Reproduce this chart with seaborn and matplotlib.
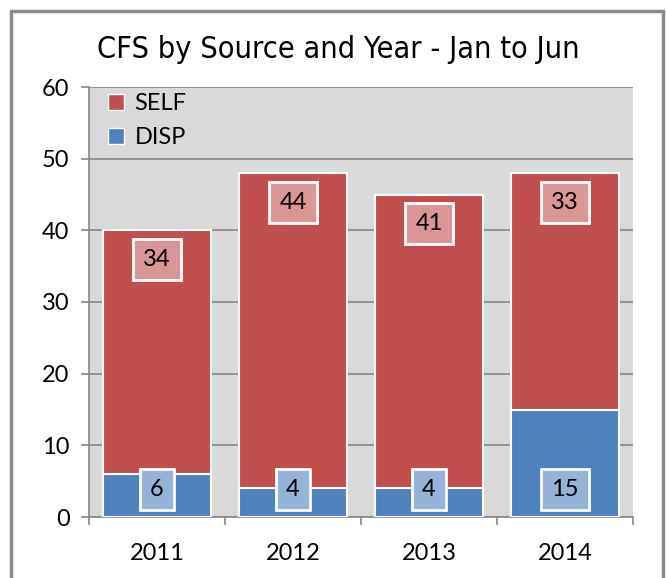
import matplotlib
matplotlib.use("Agg")
import matplotlib.pyplot as plt
from matplotlib.patches import Patch, Rectangle
import pandas as pd
import seaborn as sns

years = ["2011", "2012", "2013", "2014"]
self_vals = [34, 44, 41, 33]
disp_vals = [6, 4, 4, 15]

red = "#C0504D"
blue = "#4F81BD"
red_lbl = "#D99694"
blue_lbl = "#95B3D7"

df = pd.DataFrame({"year": years, "SELF": self_vals, "DISP": disp_vals})
df["total"] = df["SELF"] + df["DISP"]

sns.set_style("white")
plt.rcParams["font.family"] = ["Lato", "DejaVu Sans"]
plt.rcParams["text.color"] = "black"
plt.rcParams["xtick.labelcolor"] = "black"
plt.rcParams["ytick.labelcolor"] = "black"

fig = plt.figure(figsize=(6.66, 5.78), dpi=100)
ax = fig.add_axes([89 / 666, 1 - 517 / 578, (633 - 89) / 666, (517 - 87) / 578])
ax.set_facecolor("#D9D9D9")

# stacked: total in red, disp on top in blue
sns.barplot(data=df, x="year", y="total", color=red, saturation=1, width=0.8,
            edgecolor="white", linewidth=1.5, ax=ax, zorder=3)
sns.barplot(data=df, x="year", y="DISP", color=blue, saturation=1, width=0.8,
            edgecolor="white", linewidth=1.5, ax=ax, zorder=4)

for i, row in df.iterrows():
    ax.annotate(str(row["SELF"]), (i, row["total"]), xytext=(0, -21), textcoords="offset points",
                ha="center", va="center", fontsize=17, zorder=6,
                bbox=dict(boxstyle="square,pad=0.42", fc=red_lbl, ec="white", lw=2))
    ax.annotate(str(row["DISP"]), (i, 0), xytext=(0, 20), textcoords="offset points",
                ha="center", va="center", fontsize=17, zorder=6,
                bbox=dict(boxstyle="square,pad=0.42", fc=blue_lbl, ec="white", lw=2))

ax.set_ylim(0, 60)
ax.set_yticks(range(0, 61, 10))
ax.set_xlim(-0.5, 3.5)
ax.yaxis.grid(True, color="#868686", lw=1.2, zorder=0)
ax.set_axisbelow(True)
ax.set_xlabel("")
ax.set_ylabel("")
for s in ["top", "right"]:
    ax.spines[s].set_visible(False)
for s in ["left", "bottom"]:
    ax.spines[s].set_color("#868686")
    ax.spines[s].set_linewidth(1.2)

ax.tick_params(axis="y", labelsize=17, length=6, width=1.2, color="#868686", pad=8, left=True)
ax.set_xticks([0, 1, 2, 3])
ax.set_xticklabels(years)
ax.set_xticks([0.5, 1.5, 2.5, 3.5, -0.5], minor=True)
ax.tick_params(axis="x", which="major", labelsize=17, length=0, pad=19)
ax.tick_params(axis="x", which="minor", length=6, width=1.2, color="#868686", bottom=True)

handles = [Patch(fc=red, ec="white", lw=1, label="SELF"),
           Patch(fc=blue, ec="white", lw=1, label="DISP")]
ax.legend(handles=handles, loc="upper left", bbox_to_anchor=(-0.005, 1.035), frameon=False,
          fontsize=17, handlelength=0.7, handleheight=0.7, handletextpad=0.45, labelspacing=0.55)

fig.text(338 / 666, 1 - 50 / 578, "CFS by Source and Year - Jan to Jun", ha="center", va="center",
         fontsize=22, family="DejaVu Sans", fontstretch="condensed")

fig.patches.append(Rectangle((11 / 666, -0.05), (663 - 11) / 666, 1.05 - 11 / 578,
                             transform=fig.transFigure, fill=False, ec="#8C8C8C", lw=2.5))

fig.savefig("out.png", dpi=100)
